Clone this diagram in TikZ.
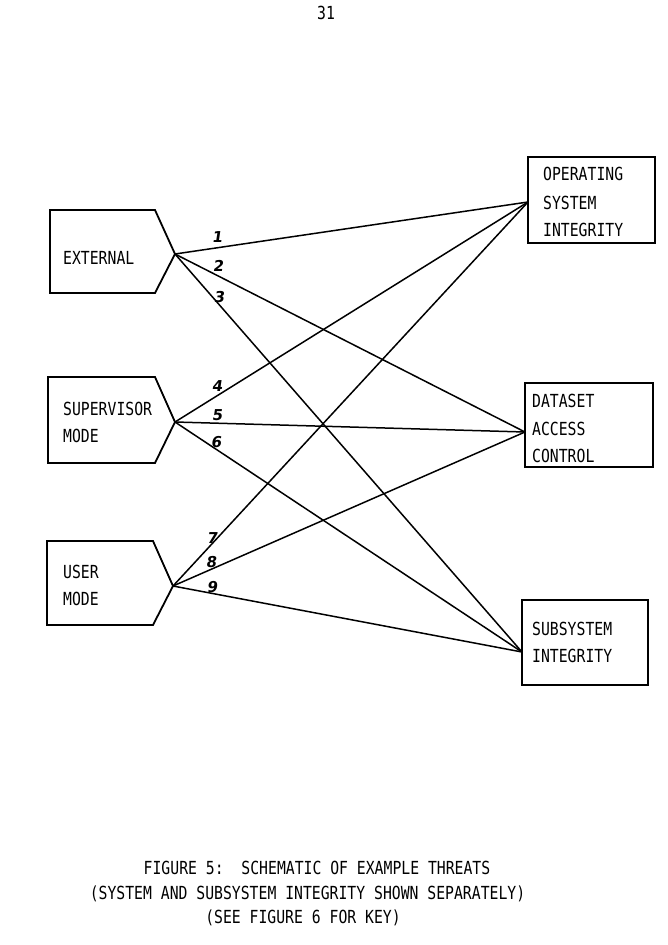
\documentclass[tikz,border=0pt]{standalone}
\usepackage{fontspec}
\newfontfamily\tw[FakeStretch=0.82]{DejaVu Sans Mono}
\newfontfamily\hw[FakeSlant=0.15]{DejaVu Sans}
\begin{document}
\begin{tikzpicture}[x=1pt,y=-1pt,
  lbl/.style={anchor=base west,inner sep=0pt,font=\tw\fontsize{18}{20}\selectfont},
  captxt/.style={anchor=base,inner sep=0pt,font=\tw\fontsize{18}{20}\selectfont},
  num/.style={inner sep=0pt,font=\hw\bfseries\fontsize{15}{16}\selectfont},
  shp/.style={line width=1.8pt,line join=miter},
  box/.style={draw,line width=1.8pt,inner sep=0pt},
  con/.style={line width=1.5pt}]
\useasboundingbox (0,0) rectangle (668,945);
% page number
\node[captxt] (pg) at (326,19) {31};
% left pentagons
\draw[shp] (50,210) -- (155,210) -- (175,254) coordinate (ext) -- (155,293) -- (50,293) -- cycle;
\draw[shp] (48,377) -- (155,377) -- (175,422) coordinate (sup) -- (155,463) -- (48,463) -- cycle;
\draw[shp] (47,541) -- (153,541) -- (173,586) coordinate (usr) -- (153,625) -- (47,625) -- cycle;
\node[lbl] (tExt) at (63,264.5) {EXTERNAL};
\node[lbl] (tSup1) at (63,415.5) {SUPERVISOR};
\node[lbl] (tSup2) at (63,442.5) {MODE};
\node[lbl] (tUsr1) at (63,578.5) {USER};
\node[lbl] (tUsr2) at (63,605.5) {MODE};
% right boxes
\node[box,minimum width=127pt,minimum height=86pt] (osi) at (591.5,200) {};
\node[box,minimum width=128pt,minimum height=84pt] (dac) at (589,425) {};
\node[box,minimum width=126pt,minimum height=85pt] (si) at (585,642.5) {};
\coordinate (osiP) at (528,202);
\coordinate (dacP) at (525,432);
\coordinate (siP) at (522,652);
\node[lbl] (tO1) at (543,180.5) {OPERATING};
\node[lbl] (tO2) at (543,209.5) {SYSTEM};
\node[lbl] (tO3) at (543,236.5) {INTEGRITY};
\node[lbl] (tD1) at (532,407.5) {DATASET};
\node[lbl] (tD2) at (532,435.5) {ACCESS};
\node[lbl] (tD3) at (532,462.5) {CONTROL};
\node[lbl] (tS1) at (532,635.5) {SUBSYSTEM};
\node[lbl] (tS2) at (532,662.5) {INTEGRITY};
% connectors
\draw[con] (ext) -- (osiP);
\draw[con] (ext) -- (dacP);
\draw[con] (ext) -- (siP);
\draw[con] (sup) -- (osiP);
\draw[con] (sup) -- (dacP);
\draw[con] (sup) -- (siP);
\draw[con] (usr) -- (osiP);
\draw[con] (usr) -- (dacP);
\draw[con] (usr) -- (siP);
% numbers
\node[num] (n1) at (217,237) {1};
\node[num] (n2) at (218,266) {2};
\node[num] (n3) at (219,297) {3};
\node[num] (n4) at (217,386) {4};
\node[num] (n5) at (217,415) {5};
\node[num] (n6) at (216,442) {6};
\node[num] (n7) at (212,538) {7};
\node[num] (n8) at (211,562) {8};
\node[num] (n9) at (212,587) {9};
% caption
\node[captxt] (c1) at (317,874.5) {FIGURE 5:\ \ SCHEMATIC OF EXAMPLE THREATS};
\node[captxt] (c2) at (307.5,899.5) {(SYSTEM AND SUBSYSTEM INTEGRITY SHOWN SEPARATELY)};
\node[captxt] (c3) at (303,923.5) {(SEE FIGURE 6 FOR KEY)};
\end{tikzpicture}
\end{document}
